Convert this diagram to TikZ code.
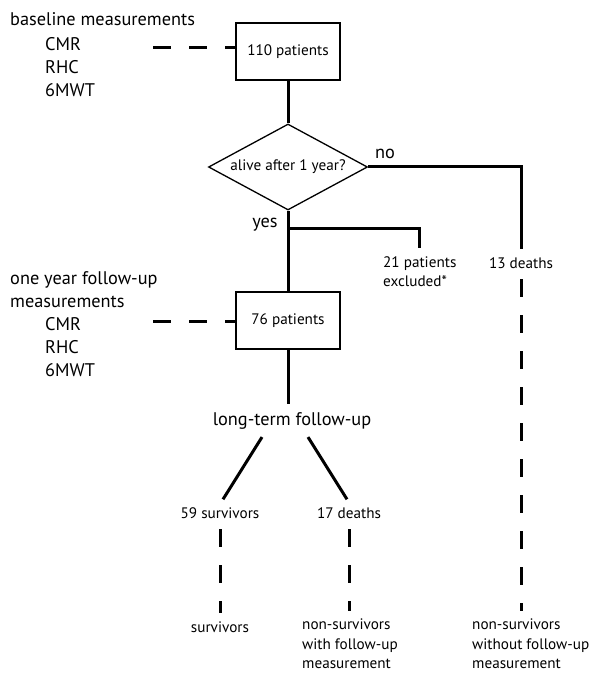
\documentclass[tikz,border=0pt]{standalone}
\usepackage{fontspec}
\setmainfont{PT Sans}
\usetikzlibrary{shapes.geometric}
\newcommand\bigtxt{\fontsize{18.3}{23}\selectfont}
\newcommand\smtxt{\fontsize{15.2}{19.5}\selectfont}
\tikzset{
  link/.style={draw=black, line width=3pt},
  dashlink/.style={draw=black, line width=3pt, dash pattern=on 18pt off 18pt},
  patbox/.style={draw=black, line width=1.5pt, minimum width=104pt, minimum height=57pt, inner sep=0pt, font=\smtxt},
  decision/.style={diamond, aspect=1.85, draw=black, line width=1.3pt, minimum width=159pt, minimum height=86pt, inner sep=0pt, font=\smtxt},
  bigtext/.style={font=\bigtxt, inner sep=0pt},
  bigblock/.style={font=\bigtxt, inner sep=0pt, align=left, anchor=north west},
  smalltext/.style={font=\smtxt, inner xsep=0pt, inner ysep=8pt, text height=10.5pt, text depth=3pt},
  smallblock/.style={font=\smtxt, inner xsep=0pt, inner ysep=8pt, align=left, anchor=north west}
}
\begin{document}
\begin{tikzpicture}[x=1pt, y=-1pt]
  \useasboundingbox (0,0) rectangle (593,676);

  % baseline part
  \node[bigblock] (basemeas) at (10,12.5) {baseline measurements\\[2pt]\hspace*{35pt}CMR\\\hspace*{35pt}RHC\\\hspace*{35pt}6MWT};
  \node[patbox] (pat110) at (288,51.5) {110 patients};
  \coordinate (baseend) at (153,48);
  \draw[dashlink] (baseend) -- (baseend -| pat110.west);

  \node[decision] (alive) at (288,167) {alive after 1 year?};
  \draw[link] (pat110) -- (alive);

  % no branch
  \node[bigtext, anchor=base] (nolbl) at (385,159) {no};
  \node[smalltext, anchor=base] (death13) at (521,268) {13 deaths};
  \draw[link] (alive.east) -| (death13.north);

  % yes branch
  \node[bigtext, anchor=base] (yeslbl) at (265,227) {yes};
  \coordinate (split) at (288,228);
  \node[smallblock] (excl) at (383,248) {21 patients\\excluded*};
  \draw[link] (split) -| (excl.north);

  % follow-up part
  \node[bigblock] (followmeas) at (10,271.5) {one year follow-up\\measurements\\\hspace*{35pt}CMR\\\hspace*{35pt}RHC\\\hspace*{35pt}6MWT};
  \node[patbox] (pat76) at (288,320.5) {76 patients};
  \draw[link] (alive) -- (pat76);
  \coordinate (followend) at (153,321);
  \draw[dashlink] (followend) -- (followend -| pat76.west);

  \node[bigtext, inner ysep=8pt, anchor=base] (longterm) at (292,425) {long-term follow-up};
  \draw[link] (pat76.south) -- (pat76.south |- longterm.north);

  \node[smalltext, anchor=base] (surv59) at (220,518) {59 survivors};
  \node[smalltext, anchor=base] (death17) at (349,518) {17 deaths};
  \draw[link] ([xshift=-30pt]longterm.south) -- ([xshift=3pt]surv59.north);
  \draw[link] ([xshift=16pt]longterm.south) -- ([xshift=-2pt]death17.north);

  % outcome groups
  \node[smalltext, anchor=base] (survout) at (220,632) {survivors};
  \node[smallblock] (nswith) at (302,611) {non-survivors\\with follow-up\\measurement};
  \node[smallblock] (nswithout) at (472,611) {non-survivors\\without follow-up\\measurement};
  \draw[dashlink] (surv59.south) -- (survout.north);
  \draw[dashlink] (death17.south) -- (death17.south |- nswith.north);
  \draw[dashlink] (death13.south) -- (death13.south |- nswithout.north);
\end{tikzpicture}
\end{document}
